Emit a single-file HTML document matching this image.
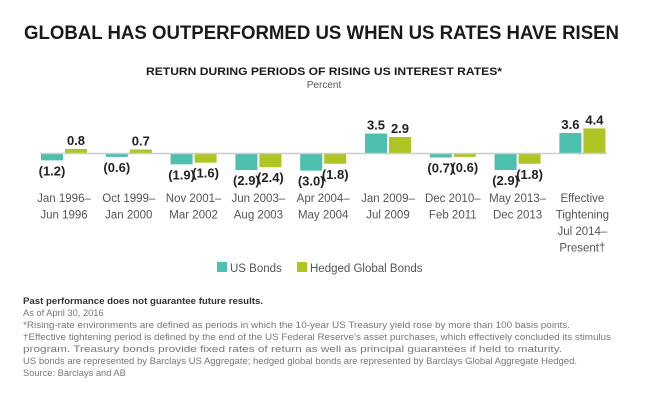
<!DOCTYPE html>
<html><head><meta charset="utf-8"><style>
body{margin:0;background:#fff;}
svg{display:block;font-family:"Liberation Sans",sans-serif;}
</style></head><body>
<svg id="chart" width="651" height="407" viewBox="0 0 651 407">
<text x="24" y="39" font-size="19" font-weight="bold" fill="#1a1a1a" textLength="595" lengthAdjust="spacingAndGlyphs">GLOBAL HAS OUTPERFORMED US WHEN US RATES HAVE RISEN</text>
<text x="324" y="75" font-size="11" font-weight="bold" fill="#1a1a1a" text-anchor="middle" textLength="356" lengthAdjust="spacingAndGlyphs">RETURN DURING PERIODS OF RISING US INTEREST RATES*</text>
<text x="324" y="88" font-size="10" fill="#555" text-anchor="middle">Percent</text>
<g id="bars"></g>
<line x1="40" x2="607" y1="153.5" y2="153.5" stroke="#ccc" stroke-width="1.5"/>
<g id="labels"></g>
<g>
<rect x="217" y="262" width="10" height="10" fill="#4dbfaf"/>
<text x="230" y="272" font-size="11.5" fill="#555">US Bonds</text>
<rect x="297" y="262" width="10" height="10" fill="#b0c424"/>
<text x="310" y="272" font-size="11.5" fill="#555">Hedged Global Bonds</text>
</g>
<g font-size="9.3" fill="#777">
<text x="23" y="304" font-weight="bold" fill="#333" textLength="240" lengthAdjust="spacingAndGlyphs">Past performance does not guarantee future results.</text>
<text x="23" y="316">As of April 30, 2016</text>
<text x="23" y="328" textLength="547" lengthAdjust="spacingAndGlyphs">*Rising-rate environments are defined as periods in which the 10-year US Treasury yield rose by more than 100 basis points.</text>
<text x="23" y="340" textLength="588" lengthAdjust="spacingAndGlyphs">†Effective tightening period is defined by the end of the US Federal Reserve's asset purchases, which effectively concluded its stimulus</text>
<text x="23" y="352" textLength="539" lengthAdjust="spacingAndGlyphs">program. Treasury bonds provide fixed rates of return as well as principal guarantees if held to maturity.</text>
<text x="23" y="364" textLength="554" lengthAdjust="spacingAndGlyphs">US bonds are represented by Barclays US Aggregate; hedged global bonds are represented by Barclays Global Aggregate Hedged.</text>
<text x="23" y="376">Source: Barclays and AB</text>
</g>
</svg>
<script>
const categories = [["Jan 1996–","Jun 1996"],["Oct 1999–","Jan 2000"],["Nov 2001–","Mar 2002"],["Jun 2003–","Aug 2003"],["Apr 2004–","May 2004"],["Jan 2009–","Jul 2009"],["Dec 2010–","Feb 2011"],["May 2013–","Dec 2013"],["Effective","Tightening","Jul 2014–","Present†"]];
const usBonds = [-1.2,-0.6,-1.9,-2.9,-3.0,3.5,-0.7,-2.9,3.6];
const globalBonds = [0.8,0.7,-1.6,-2.4,-1.8,2.9,-0.6,-1.8,4.4];
const NS="http://www.w3.org/2000/svg";
const baseY=153.5, pxPerUnit=5.7, x0=41, groupStep=64.8, barW=22, gap=2;
const yScale=v=>baseY-v*pxPerUnit;
const xGroup=i=>x0+i*groupStep;
const fmt=v=>v<0?"("+Math.abs(v).toFixed(1)+")":v.toFixed(1);
const bars=document.getElementById("bars"), labels=document.getElementById("labels");
function mk(tag,attrs){const e=document.createElementNS(NS,tag);for(const k in attrs)e.setAttribute(k,attrs[k]);return e;}
const series=[{vals:usBonds,color:"#4dbfaf",key:"us"},{vals:globalBonds,color:"#b0c424",key:"global"}];
categories.forEach((cat,i)=>{
  series.forEach((s,j)=>{
    const v=s.vals[i];
    const x=xGroup(i)+j*(barW+gap);
    const y=Math.min(yScale(v),baseY), h=Math.abs(yScale(v)-baseY);
    const r=mk("rect",{x:x,y:y,width:barW,height:h,fill:s.color});
    
    
    bars.appendChild(r);
    const ty=v>=0?yScale(v)-4:yScale(v)+15;
    const t=mk("text",{x:x+barW/2,y:ty,"font-size":"13","font-weight":"bold",fill:"#222","text-anchor":"middle"});
    t.textContent=fmt(v);
    
    
    labels.appendChild(t);
  });
  cat.forEach((line,k)=>{
    const t=mk("text",{x:xGroup(i)+barW+gap/2,y:202+k*16.5,"font-size":"11.5",fill:"#555","text-anchor":"middle"});
    t.textContent=line;
    
    
    labels.appendChild(t);
  });
});
</script>
</body></html>
